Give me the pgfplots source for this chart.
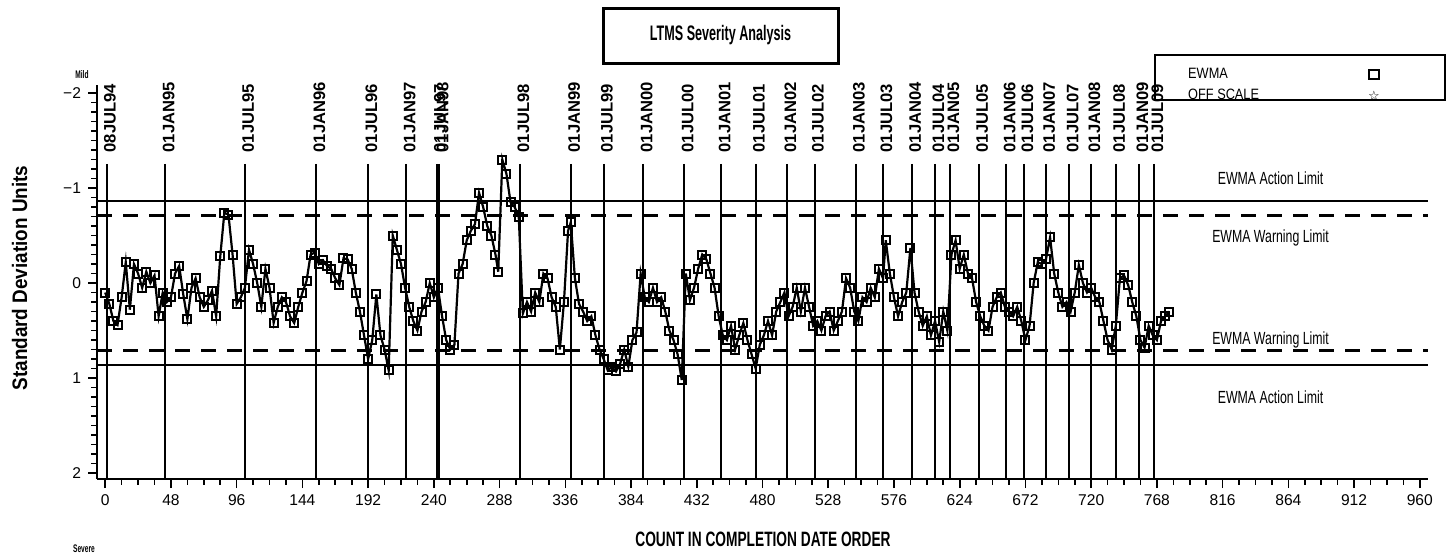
\documentclass[border=0pt]{standalone}
\usepackage{fontspec}
\setmainfont{Liberation Sans}
\newfontfamily\nf[FakeStretch=0.7]{Liberation Sans}
\newfontfamily\tf[FakeStretch=0.6]{Liberation Sans}
\newfontfamily\xf[FakeStretch=0.66]{Liberation Sans}
\newfontfamily\yf[FakeStretch=0.9]{Liberation Sans}
\newfontfamily\lf[FakeStretch=0.85]{Liberation Sans}
\newfontfamily\djv{DejaVu Sans}
\usepackage{pgfplots}
\pgfplotsset{compat=1.18}

\begin{document}
\begin{tikzpicture}
\useasboundingbox (0,0) rectangle (727.5pt,277pt);
\begin{axis}[
    at={(48.5pt,37.5pt)}, anchor=south west,
    scale only axis, width=665.5pt, height=197pt,
    xmin=-6, xmax=966, ymin=-2.085, ymax=2.063, y dir=reverse,
    axis x line*=bottom, axis y line*=left,
    axis line style={line width=1pt, -},
    xtick={0,48,...,960}, minor x tick num=3,
    ytick={-2,-1,0,1,2}, yticklabels={−2,−1,0,1,2}, minor y tick num=9,
    tick align=outside, major tick length=4.5pt, minor tick length=2.8pt,
    every tick/.style={black, line width=0.8pt},
    tick label style={font=\fontsize{7.8}{9}\selectfont},
    /pgf/number format/assume math mode=true,
    clip=false,
    legend plot pos=right,
    legend style={at={(0.7955,1.070)}, anchor=north west, draw=none, fill=none,
        font=\lf\fontsize{7.5}{8}\selectfont, inner xsep=14pt, inner ysep=3pt,
        row sep=0pt, cells={anchor=west, inner sep=1pt}},
]

% control limits
\draw[line width=1pt] (axis cs:-6,-0.866) -- (axis cs:966,-0.866);
\draw[line width=1pt] (axis cs:-6,0.866) -- (axis cs:966,0.866);
\draw[line width=1.5pt, dash pattern=on 7.5pt off 5.5pt] (axis cs:-6,-0.706) -- (axis cs:966,-0.706);
\draw[line width=1.5pt, dash pattern=on 7.5pt off 5.5pt] (axis cs:-6,0.706) -- (axis cs:966,0.706);

% date reference lines
\foreach \c/\d in {1/08JUL94, 44/01JAN95, 102/01JUL95, 154/01JAN96, 192/01JUL96,
    220/01JAN97, 242/01JUL97, 244/01JAN98, 303/01JUL98, 340/01JAN99, 364/01JUL99,
    393/01JAN00, 423/01JUL00, 450/01JAN01, 475/01JUL01, 498/01JAN02, 518/01JUL02,
    548/01JAN03, 568/01JUL03, 589/01JAN04, 606/01JUL04, 617/01JAN05, 638/01JUL05,
    658/01JAN06, 671/01JUL06, 687/01JAN07, 704/01JUL07, 720/01JAN08, 738/01JUL08,
    755/01JAN09, 766/01JUL09}{
  \edef\tmp{\noexpand\draw[line width=1pt] (axis cs:\c,-1.256) -- (axis cs:\c,2.063);
    \noexpand\node[rotate=90, anchor=base west, inner sep=0pt,
      font=\noexpand\bfseries\noexpand\fontsize{8.3}{9}\noexpand\selectfont]
      at ([xshift=4.5pt]axis cs:\c,-1.371) {\d};}
  \tmp
}

\node[font=\nf\fontsize{8.8}{10}\selectfont] at (axis cs:851,-1.10) {EWMA Action Limit};
\node[font=\nf\fontsize{8.8}{10}\selectfont] at (axis cs:851,-0.48) {EWMA Warning Limit};
\node[font=\nf\fontsize{8.8}{10}\selectfont] at (axis cs:851,0.60) {EWMA Warning Limit};
\node[font=\nf\fontsize{8.8}{10}\selectfont] at (axis cs:851,1.20) {EWMA Action Limit};

% EWMA series
\addplot[black, line width=1.1pt, mark=square, mark size=2pt,
    mark options={line width=1pt}, forget plot] coordinates {
(0,0.10) (3,0.22) (6,0.40) (9,0.44) (12,0.15) (15,-0.22) (18,0.28) (21,-0.20)
(24,-0.10) (27,0.05) (30,-0.12) (33,0.00) (36,-0.08) (39,0.35) (42,0.10) (45,0.20)
(48,0.15) (51,-0.10) (54,-0.18) (57,0.12) (60,0.38) (63,0.05) (66,-0.05) (69,0.15)
(72,0.25) (75,0.18) (78,0.08) (81,0.35) (84,-0.28) (87,-0.74) (90,-0.72) (93,-0.30)
(96,0.22) (99,0.15) (102,0.05) (105,-0.35) (108,-0.20) (111,0.00) (114,0.25) (117,-0.15)
(120,0.05) (123,0.42) (126,0.25) (129,0.15) (132,0.20) (135,0.35) (138,0.42) (141,0.25)
(144,0.10) (147,-0.02) (150,-0.30) (153,-0.32) (156,-0.20) (159,-0.24) (162,-0.18) (165,-0.15)
(168,-0.05) (171,0.02) (174,-0.26) (177,-0.25) (180,-0.15) (183,0.10) (186,0.30) (189,0.55)
(192,0.80) (195,0.60) (198,0.12) (201,0.55) (204,0.70) (207,0.92) (210,-0.50) (213,-0.35)
(216,-0.20) (219,0.05) (222,0.25) (225,0.40) (228,0.50) (231,0.30) (234,0.20) (237,0.00)
(240,0.15) (243,0.05) (246,0.35) (249,0.60) (252,0.70) (255,0.65) (258,-0.10) (261,-0.20)
(264,-0.45) (267,-0.55) (270,-0.62) (273,-0.95) (276,-0.80) (279,-0.60) (282,-0.50) (285,-0.30)
(287,-0.12) (290,-1.30) (293,-1.15) (296,-0.85) (299,-0.80) (302,-0.70) (305,0.32) (308,0.20)
(311,0.30) (314,0.10) (317,0.20) (320,-0.10) (323,-0.05) (326,0.15) (329,0.25) (332,0.70)
(335,0.20) (338,-0.55) (340,-0.64) (343,-0.05) (346,0.22) (349,0.30) (352,0.40) (355,0.35)
(358,0.55) (361,0.70) (364,0.80) (367,0.92) (370,0.88) (373,0.93) (376,0.85) (379,0.70)
(382,0.88) (385,0.60) (388,0.52) (391,-0.10) (394,0.15) (397,0.20) (400,0.05) (403,0.20)
(406,0.15) (409,0.30) (412,0.50) (415,0.60) (418,0.75) (421,1.02) (424,-0.10) (427,0.18)
(430,0.05) (433,-0.15) (436,-0.30) (439,-0.25) (442,-0.10) (445,0.05) (448,0.35) (451,0.55)
(454,0.60) (457,0.45) (460,0.70) (463,0.55) (466,0.42) (469,0.60) (472,0.75) (475,0.90)
(478,0.65) (481,0.55) (484,0.40) (487,0.55) (490,0.30) (493,0.20) (496,0.10) (499,0.35)
(502,0.25) (505,0.05) (508,0.30) (511,0.05) (514,0.25) (517,0.45) (520,0.40) (523,0.50)
(526,0.35) (529,0.30) (532,0.50) (535,0.40) (538,0.30) (541,-0.05) (544,0.05) (547,0.30)
(550,0.40) (553,0.15) (556,0.20) (559,0.05) (562,0.15) (565,-0.15) (568,-0.05) (570,-0.45)
(573,-0.10) (576,0.15) (579,0.35) (582,0.20) (585,0.10) (588,-0.37) (591,0.10) (594,0.30)
(597,0.45) (600,0.35) (603,0.55) (606,0.40) (609,0.62) (612,0.30) (615,0.50) (618,-0.30)
(621,-0.45) (624,-0.15) (627,-0.30) (630,-0.10) (633,-0.05) (636,0.20) (639,0.35) (642,0.45)
(645,0.50) (648,0.25) (651,0.15) (654,0.10) (657,0.25) (660,0.30) (663,0.35) (666,0.25)
(669,0.40) (672,0.60) (675,0.45) (678,0.00) (681,-0.22) (684,-0.20) (687,-0.25) (690,-0.48)
(693,-0.10) (696,0.10) (699,0.25) (702,0.20) (705,0.30) (708,0.10) (711,-0.19) (714,0.00)
(717,0.10) (720,0.05) (723,0.15) (726,0.20) (729,0.40) (732,0.60) (735,0.70) (738,0.45)
(741,-0.05) (744,-0.08) (747,0.02) (750,0.20) (753,0.35) (756,0.60) (759,0.68) (762,0.45)
(765,0.55) (768,0.60) (771,0.40) (774,0.35) (777,0.30)
};

\addlegendimage{only marks, mark=square, mark size=2.4pt, mark options={line width=1.1pt}}
\addlegendentry{\makebox[88pt][l]{EWMA}}
\addlegendimage{only marks, mark=text, text mark={\djv\fontsize{6.5}{6.5}\selectfont ☆}}
\addlegendentry{\makebox[88pt][l]{OFF SCALE}}
\end{axis}

% legend frame
\draw[line width=0.8pt] (577.5pt,249.5pt) rectangle (722.5pt,227pt);

\node[draw, line width=1.5pt, minimum width=117.5pt, minimum height=27.5pt]
  at (360.25pt,259.25pt) {\tf\bfseries\fontsize{10.5}{12}\selectfont LTMS Severity Analysis};
\node[font=\xf\bfseries\fontsize{10.4}{12}\selectfont] at (381.5pt,7.25pt) {COUNT IN COMPLETION DATE ORDER};
\node[rotate=90, font=\yf\bfseries\fontsize{10.5}{12}\selectfont] at (9.75pt,138pt) {Standard Deviation Units};
\node[font=\tf\bfseries\fontsize{5.5}{6}\selectfont] at (41pt,239.5pt) {Mild};
\node[font=\tf\bfseries\fontsize{5.5}{6}\selectfont, anchor=south, inner sep=0.5pt] at (42pt,0pt) {Severe};
\end{tikzpicture}
\end{document}
